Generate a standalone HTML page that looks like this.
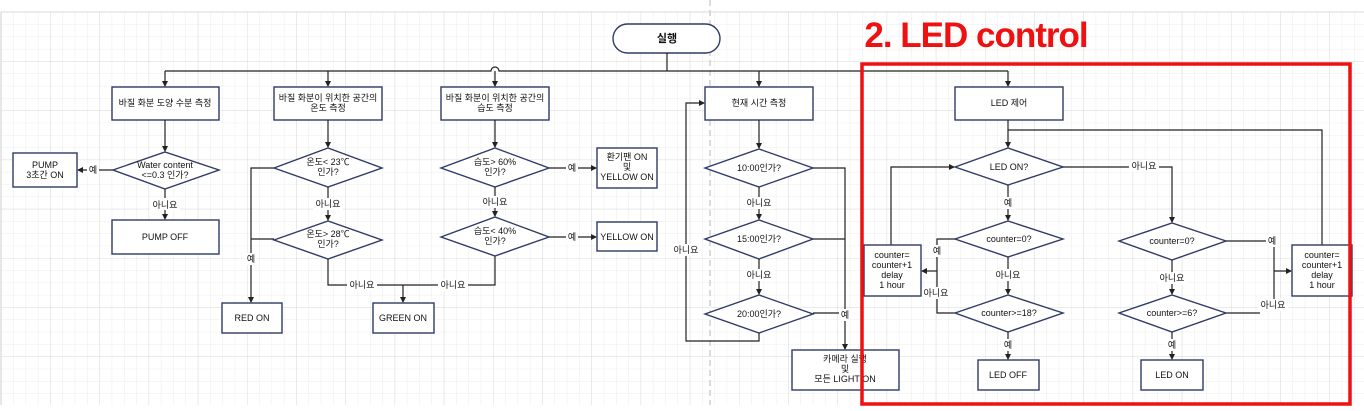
<!DOCTYPE html>
<html><head><meta charset="utf-8"><style>
html,body{margin:0;padding:0;background:#fff;}
svg{display:block;}
text{font-family:"Liberation Sans","Noto Sans CJK KR",sans-serif;font-size:9px;fill:#111;text-anchor:middle;}
.b{fill:#fff;stroke:#2f3a66;stroke-width:1.4;}
.l{fill:none;stroke:#222;stroke-width:1.2;}
.lbl{fill:#fff;}
</style></head><body>
<svg width="1364" height="411" viewBox="0 0 1364 411" xmlns="http://www.w3.org/2000/svg">
<defs>
<pattern id="g" x="1" y="12" width="12.3" height="12.3" patternUnits="userSpaceOnUse">
<path d="M0 0H12.3M0 0V12.3" stroke="#ececec" stroke-width="1" fill="none"/>
</pattern>
<pattern id="G" x="1" y="12" width="49.2" height="49.2" patternUnits="userSpaceOnUse">
<path d="M0 0H49.2M0 0V49.2" stroke="#dcdcdc" stroke-width="1" fill="none"/>
</pattern>
<marker id="a" markerWidth="6" markerHeight="6" refX="5" refY="3" orient="auto" markerUnits="userSpaceOnUse"><path d="M0,0L6,3L0,6z" fill="#222"/></marker>
</defs>
<rect x="0" y="0" width="1364" height="411" fill="#fff"/>
<rect x="1" y="12" width="1363" height="393" fill="url(#g)"/>
<rect x="1" y="12" width="1363" height="393" fill="url(#G)"/>
<line x1="1" y1="12" x2="1364" y2="12" stroke="#d8d8d8"/>
<line x1="1" y1="12" x2="1" y2="405" stroke="#cfcfcf"/>
<line x1="710" y1="0" x2="710" y2="405" stroke="#cfcfcf" stroke-width="1.5" stroke-dasharray="6,4"/>

<!-- start -->
<rect class="b" x="613" y="24" width="107" height="29" rx="14.5"/>
<text x="667" y="42" style="font-weight:bold;font-size:11px">실행</text>
<path class="l" d="M667 53V71"/>
<path class="l" d="M165 71H491 A4 4 0 0 1 499 71 H1008"/>
<path class="l" d="M165 71V86" marker-end="url(#a)"/>
<path class="l" d="M328 71V86" marker-end="url(#a)"/>
<path class="l" d="M495 71V86" marker-end="url(#a)"/>
<path class="l" d="M759 71V86" marker-end="url(#a)"/>
<path class="l" d="M1008 71V86" marker-end="url(#a)"/>

<!-- column 1 -->
<rect class="b" x="112" y="87" width="107" height="33"/>
<text x="165" y="106">바질 화분 도양 수분 측정</text>
<path class="l" d="M165 120V151" marker-end="url(#a)"/>
<polygon class="b" points="113,170 165,152 219,170 165,189"/>
<text x="165" y="168">Water content</text><text x="165" y="178">&lt;=0.3 인가?</text>
<path class="l" d="M113 170H78" marker-end="url(#a)"/>
<rect class="lbl" x="87" y="164" width="12" height="12"/><text x="93" y="173">예</text>
<rect class="b" x="13" y="153" width="64" height="34"/>
<text x="45" y="168">PUMP</text><text x="45" y="178">3초간 ON</text>
<path class="l" d="M165 189V219" marker-end="url(#a)"/>
<rect class="lbl" x="150" y="198" width="30" height="12"/><text x="165" y="208">아니요</text>
<rect class="b" x="112" y="220" width="107" height="34"/>
<text x="165" y="240">PUMP OFF</text>

<!-- column 2 -->
<rect class="b" x="274" y="87" width="108" height="33"/>
<text x="328" y="101">바질 화분이 위치한 공간의</text><text x="328" y="111">온도 측정</text>
<path class="l" d="M328 120V147" marker-end="url(#a)"/>
<polygon class="b" points="274,168 328,148 382,168 328,187"/>
<text x="328" y="165">온도&lt; 23℃</text><text x="328" y="175">인가?</text>
<path class="l" d="M328 187V220" marker-end="url(#a)"/>
<rect class="lbl" x="313" y="198" width="30" height="12"/><text x="328" y="207">아니요</text>
<polygon class="b" points="274,240 328,221 382,240 328,259"/>
<text x="328" y="237">온도&gt; 28℃</text><text x="328" y="247">인가?</text>
<path class="l" d="M274 168H251V302" marker-end="url(#a)"/>
<path class="l" d="M274 239H251"/>
<rect class="lbl" x="245" y="253" width="12" height="12"/><text x="251" y="262">예</text>
<rect class="b" x="222" y="303" width="60" height="30"/>
<text x="252" y="321">RED ON</text>
<path class="l" d="M328 259V285H495V256"/>
<path class="l" d="M403 285V302" marker-end="url(#a)"/>
<rect class="lbl" x="347" y="279" width="30" height="12"/><text x="362" y="288">아니요</text>
<rect class="lbl" x="438" y="279" width="30" height="12"/><text x="453" y="288">아니요</text>
<rect class="b" x="373" y="303" width="61" height="30"/>
<text x="403" y="321">GREEN ON</text>

<!-- column 3 -->
<rect class="b" x="441" y="87" width="108" height="33"/>
<text x="495" y="101">바질 화분이 위치한 공간의</text><text x="495" y="111">습도 측정</text>
<path class="l" d="M495 120V147" marker-end="url(#a)"/>
<polygon class="b" points="441,168 495,148 549,168 495,187"/>
<text x="495" y="165">습도&gt; 60%</text><text x="495" y="175">인가?</text>
<path class="l" d="M549 168H596" marker-end="url(#a)"/>
<rect class="lbl" x="566" y="162" width="12" height="12"/><text x="572" y="171">예</text>
<rect class="b" x="597" y="148" width="60" height="40"/>
<text x="627" y="160">환기팬 ON</text><text x="627" y="170">및</text><text x="627" y="180">YELLOW ON</text>
<path class="l" d="M495 187V216" marker-end="url(#a)"/>
<rect class="lbl" x="480" y="196" width="30" height="12"/><text x="495" y="205">아니요</text>
<polygon class="b" points="441,237 495,217 549,237 495,256"/>
<text x="495" y="234">습도&lt; 40%</text><text x="495" y="244">인가?</text>
<path class="l" d="M549 237H596" marker-end="url(#a)"/>
<rect class="lbl" x="566" y="231" width="12" height="12"/><text x="572" y="240">예</text>
<rect class="b" x="597" y="222" width="60" height="29"/>
<text x="627" y="240">YELLOW ON</text>

<!-- column 4 -->
<rect class="b" x="705" y="87" width="108" height="33"/>
<text x="759" y="106">현재 시간 측정</text>
<path class="l" d="M759 120V148" marker-end="url(#a)"/>
<polygon class="b" points="705,168 759,149 813,168 759,187"/>
<text x="759" y="171">10:00인가?</text>
<path class="l" d="M759 187V219" marker-end="url(#a)"/>
<rect class="lbl" x="744" y="197" width="30" height="12"/><text x="759" y="206">아니요</text>
<polygon class="b" points="705,239 759,220 813,239 759,259"/>
<text x="759" y="242">15:00인가?</text>
<path class="l" d="M759 259V294" marker-end="url(#a)"/>
<rect class="lbl" x="744" y="269" width="30" height="12"/><text x="759" y="278">아니요</text>
<polygon class="b" points="705,314 759,295 813,314 759,333"/>
<text x="759" y="317">20:00인가?</text>
<path class="l" d="M813 168H845V349" marker-end="url(#a)"/>
<path class="l" d="M813 239H845"/>
<path class="l" d="M813 313H845"/>
<rect class="lbl" x="839" y="309" width="12" height="12"/><text x="845" y="318">예</text>
<path class="l" d="M759 333V341H686V103H704" marker-end="url(#a)"/>
<rect class="lbl" x="671" y="244" width="30" height="12"/><text x="686" y="253">아니요</text>
<rect class="b" x="792" y="350" width="107" height="40"/>
<text x="845" y="362">카메라 실행</text><text x="845" y="372">및</text><text x="845" y="382">모든 LIGHT ON</text>

<!-- LED section -->
<rect class="b" x="955" y="87" width="108" height="33"/>
<text x="1009" y="106">LED 제어</text>
<path class="l" d="M1008 120V147" marker-end="url(#a)"/>
<path class="l" d="M1008 130H1322V245"/>
<polygon class="b" points="955,167 1008,148 1063,167 1008,185"/>
<text x="1009" y="170">LED ON?</text>
<path class="l" d="M891 245V167H954" marker-end="url(#a)"/>
<path class="l" d="M1063 167H1172V222" marker-end="url(#a)"/>
<rect class="lbl" x="1129" y="160" width="30" height="12"/><text x="1144" y="169">아니요</text>
<path class="l" d="M1008 185V220" marker-end="url(#a)"/>
<rect class="lbl" x="1002" y="197" width="12" height="12"/><text x="1008" y="206">예</text>
<polygon class="b" points="955,239 1008,221 1063,239 1008,257"/>
<text x="1009" y="242">counter=0?</text>
<path class="l" d="M955 239H937V313H955"/>
<path class="l" d="M937 271H922" marker-end="url(#a)"/>
<rect class="lbl" x="931" y="245" width="12" height="12"/><text x="937" y="254">예</text>
<rect class="lbl" x="921" y="287" width="30" height="12"/><text x="936" y="296">아니요</text>
<rect class="b" x="864" y="245" width="57" height="51"/>
<text x="892" y="258">counter=</text><text x="892" y="268">counter+1</text><text x="892" y="278">delay</text><text x="892" y="288">1 hour</text>
<path class="l" d="M1008 257V294" marker-end="url(#a)"/>
<rect class="lbl" x="993" y="269" width="30" height="12"/><text x="1008" y="278">아니요</text>
<polygon class="b" points="955,313 1008,295 1063,313 1008,332"/>
<text x="1009" y="316">counter&gt;=18?</text>
<path class="l" d="M1008 332V359" marker-end="url(#a)"/>
<rect class="lbl" x="1002" y="339" width="12" height="12"/><text x="1008" y="348">예</text>
<rect class="b" x="978" y="360" width="61" height="30"/>
<text x="1008" y="378">LED OFF</text>

<polygon class="b" points="1119,241 1172,223 1226,241 1172,260"/>
<text x="1172" y="244">counter=0?</text>
<path class="l" d="M1226 241H1274V300"/>
<rect class="lbl" x="1266" y="235" width="12" height="12"/><text x="1272" y="244">예</text>
<path class="l" d="M1274 271H1291" marker-end="url(#a)"/>
<path class="l" d="M1226 313H1260"/>
<rect class="lbl" x="1258" y="299" width="30" height="12"/><text x="1273" y="308">아니요</text>
<path class="l" d="M1172 260V294" marker-end="url(#a)"/>
<rect class="lbl" x="1157" y="272" width="30" height="12"/><text x="1172" y="281">아니요</text>
<polygon class="b" points="1119,313 1172,295 1226,313 1172,332"/>
<text x="1172" y="316">counter&gt;=6?</text>
<path class="l" d="M1172 332V359" marker-end="url(#a)"/>
<rect class="lbl" x="1166" y="339" width="12" height="12"/><text x="1172" y="348">예</text>
<rect class="b" x="1141" y="360" width="62" height="30"/>
<text x="1172" y="378">LED ON</text>
<rect class="b" x="1292" y="245" width="60" height="51"/>
<text x="1322" y="258">counter=</text><text x="1322" y="268">counter+1</text><text x="1322" y="278">delay</text><text x="1322" y="288">1 hour</text>

<!-- red annotation -->
<rect x="862" y="64" width="488" height="340" fill="none" stroke="#ee1111" stroke-width="3.5"/>
<text x="976" y="47" style="fill:#ee1111;font-size:35px;font-weight:bold;letter-spacing:-1px">2. LED control</text>
</svg>
</body></html>
